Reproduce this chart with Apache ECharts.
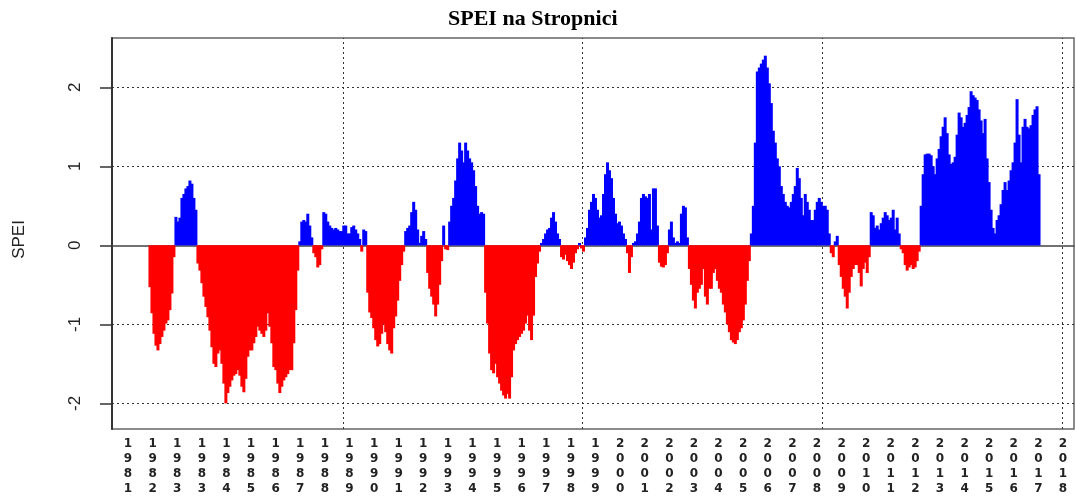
<!DOCTYPE html>
<html>
<head>
<meta charset="utf-8">
<script src="https://cdn.jsdelivr.net/npm/echarts@6/dist/echarts.min.js"></script>
<style>html,body{margin:0;padding:0;background:#fff}#c{width:1076px;height:497px}</style>
</head>
<body>
<div id="c"></div>
<script>
const titleText = 'SPEI na Stropnici';
const yAxisTitle = 'SPEI';
const firstYear = 1981;
const firstMonthIndex = 11; // months after Jan 1981 of the first value

const speiValues = [
  -0.53, -0.86, -1.12, -1.27, -1.33, -1.25, -1.16, -1.08, -0.99, -0.95, -0.82, -0.61, -0.15,
  0.36, 0.30, 0.35, 0.60, 0.65, 0.72, 0.75, 0.82, 0.78, 0.60, 0.45,
  -0.23, -0.32, -0.48, -0.65, -0.78, -0.91, -1.08, -1.29, -1.50, -1.54, -1.37, -1.33, -1.50, -1.75, -2.00, -1.87, -1.79,
  -1.71, -1.65, -1.63, -1.58, -1.65, -1.79, -1.86, -1.69, -1.41, -1.33, -1.33, -1.24, -1.16, -1.03, -1.08, -1.12, -1.16,
  -1.08, -0.86, -1.03, -1.24, -1.54, -1.58, -1.75, -1.87, -1.79, -1.71, -1.67, -1.63, -1.58, -1.58, -1.24, -0.82, -0.32,
  0.05,
  0.30, 0.32, 0.30, 0.40, 0.25, 0.10,
  -0.10, -0.15, -0.28, -0.25, -0.05,
  0.42, 0.40, 0.30, 0.25, 0.22, 0.20, 0.22, 0.20, 0.18,
  0.18, 0.25, 0.25, 0.15, 0.15, 0.23, 0.25, 0.20, 0.15, 0.08, -0.08, 0.20, 0.18,
  -0.60, -0.85, -0.92, -1.05, -1.20, -1.28, -1.25, -1.12, -1.00, -1.10, -1.25, -1.33, -1.37, -1.05, -0.90, -0.70, -0.45, -0.25, -0.08,
  0.18, 0.22, 0.25, 0.42, 0.55, 0.45, 0.20, 0.03, 0.12, 0.18, 0.08,
  -0.35, -0.55, -0.65, -0.75, -0.90, -0.75, -0.50, -0.20,
  0.25, -0.05, -0.06,
  0.30, 0.50, 0.60, 0.82, 1.10, 1.30, 1.20, 1.05, 1.30, 1.20, 1.10, 1.05, 0.95, 0.75, 0.50, 0.40, 0.42, 0.40,
  -0.60, -0.99, -1.37, -1.58, -1.62, -1.50, -1.67, -1.75, -1.84, -1.90, -1.94, -1.88, -1.94, -1.67,
  -1.33, -1.25, -1.20, -1.16, -1.12, -1.08, -0.99, -0.89, -1.08, -1.20, -0.89, -0.40, -0.23, -0.08,
  0.03,
  0.08, 0.15, 0.20, 0.22, 0.35, 0.42, 0.30, 0.15, 0.08,
  -0.15, -0.18, -0.12, -0.20, -0.25, -0.30, -0.22, -0.10, -0.05, 0.03, -0.04, -0.08,
  0.10, 0.22, 0.45, 0.55, 0.65, 0.60, 0.45, 0.35, 0.38, 0.65, 0.90, 1.05, 0.95, 0.85, 0.60, 0.40, 0.28, 0.30, 0.25, 0.15, 0.08,
  -0.10, -0.35, -0.15,
  0.03, 0.05, 0.15, 0.30, 0.60, 0.65, 0.62, 0.60, 0.65, 0.20, 0.72, 0.72, 0.25,
  -0.22, -0.27, -0.28, -0.25, -0.10,
  0.20, 0.30, 0.10, 0.03, 0.05, 0.03, 0.40, 0.50, 0.48, 0.10,
  -0.30, -0.50, -0.70, -0.80, -0.60, -0.55, -0.50, -0.30, -0.65, -0.75, -0.55, -0.55, -0.35, -0.30, -0.45, -0.55,
  -0.60, -0.75, -0.85, -1.00, -1.10, -1.20, -1.23, -1.25, -1.20, -1.10, -1.05, -0.95, -0.75, -0.45, -0.20,
  0.15,
  0.50, 1.30, 2.20, 2.25, 2.30, 2.35, 2.40, 2.25, 2.05, 1.80, 1.45, 1.30, 1.10, 1.00, 0.75, 0.65, 0.55, 0.50, 0.48, 0.55,
  0.65, 0.75, 0.98, 0.85, 0.60, 0.38, 0.65, 0.55, 0.45, 0.32, 0.32, 0.45, 0.55, 0.60, 0.55, 0.50, 0.50, 0.45, 0.15,
  -0.10, -0.15, 0.05, 0.12,
  -0.25, -0.40, -0.55, -0.65, -0.80, -0.60, -0.40, -0.30, -0.25, -0.25, -0.35, -0.52, -0.30, -0.22, -0.35, -0.15,
  0.42, 0.38, 0.22, 0.25, 0.20, 0.28, 0.35, 0.42, 0.38, 0.32, 0.35, 0.45, 0.20, 0.35, 0.15,
  -0.05, -0.10, -0.25, -0.32, -0.28, -0.25, -0.30, -0.28, -0.20, -0.08,
  0.50, 0.90, 1.15, 1.16, 1.16, 1.14, 1.00, 0.90, 1.10, 1.22, 1.38, 1.50, 1.62, 1.42, 1.15, 1.03, 1.05, 1.12, 1.40, 1.68,
  1.62, 1.50, 1.55, 1.65, 1.75, 1.95, 1.90, 1.87, 1.84, 1.72, 1.58, 1.42, 1.60, 1.10, 0.80, 0.45, 0.22, 0.15, 0.32, 0.38,
  0.52, 0.70, 0.80, 0.70, 0.82, 0.95, 1.05, 1.30, 1.85, 1.40, 1.05, 1.50, 1.60, 1.50, 1.48, 1.52, 1.65, 1.72, 1.76, 0.90
];

const yearLabels = [
  '1981','1982','1983','1983','1984','1985','1986','1987','1988','1989',
  '1990','1991','1992','1993','1994','1995','1996','1997','1998','1999',
  '2000','2001','2002','2003','2004','2005','2006','2007','2008','2009',
  '2010','2011','2012','2013','2014','2015','2016','2017','2018'
];
const yTickValues = [-2, -1, 0, 1, 2];
const yGridValues = [-2, -1, 1, 2];
const xGridYears = [1990, 2000, 2010, 2020];

const barData = speiValues.map((v, i) => [firstYear + (firstMonthIndex + i + 0.5) / 12, v]);

const gridStyle = { type: [2, 3], color: '#333', width: 1 };
const markData = [];
xGridYears.forEach(y => markData.push({ xAxis: y, lineStyle: gridStyle }));
yGridValues.forEach(v => markData.push({ yAxis: v, lineStyle: gridStyle }));

const chart = echarts.init(document.getElementById('c'), null, { renderer: 'canvas' });
chart.setOption({
  animation: false,
  backgroundColor: '#fff',
  title: {
    text: titleText, left: 443, top: 3,
    textStyle: { fontFamily: 'Liberation Serif', fontWeight: 'bold', fontSize: 22, color: '#000' }
  },
  grid: [
    { left: 112, right: 2, top: 38, bottom: 68, show: true, borderColor: '#666', borderWidth: 1.5 },
    { left: 128, right: 13, top: 38, bottom: 68, show: false }
  ],
  xAxis: [
    {
      type: 'value', gridIndex: 0, min: 1980.375, max: 2020.5,
      axisLine: { show: true, onZero: true, lineStyle: { color: '#444', width: 1.5 } },
      axisTick: { show: false }, axisLabel: { show: false }, splitLine: { show: false }
    },
    {
      type: 'category', gridIndex: 1, data: yearLabels, boundaryGap: false, position: 'bottom',
      axisLine: { show: false }, axisTick: { show: false }, splitLine: { show: false },
      axisLabel: {
        interval: 0, margin: 8, fontFamily: 'DejaVu Sans', fontWeight: 'bold', fontSize: 12,
        lineHeight: 14.7, color: '#222', formatter: v => v.split('').join('\n')
      }
    }
  ],
  yAxis: [
    {
      type: 'value', gridIndex: 0, min: -2.325, max: 2.624, minInterval: 1, maxInterval: 1,
      name: yAxisTitle, nameLocation: 'middle', nameRotate: 90, nameGap: 84,
      nameTextStyle: { fontFamily: 'Liberation Sans', fontSize: 17, color: '#222', padding: [0, 12, 0, 0] },
      axisLine: { show: true, lineStyle: { color: '#333', width: 2 } },
      axisTick: { show: true, length: 12, customValues: yTickValues, lineStyle: { color: '#333', width: 1.5 } },
      axisLabel: { customValues: yTickValues, rotate: 90, margin: 28, fontFamily: 'Liberation Sans', fontSize: 17, color: '#222' },
      splitLine: { show: false }
    },
    { type: 'value', gridIndex: 1, show: false }
  ],
  series: [{
    type: 'bar', xAxisIndex: 0, yAxisIndex: 0, data: barData, barWidth: 3, z: 3,
    itemStyle: { color: p => (p.value[1] >= 0 ? '#0000FF' : '#FF0000') },
    markLine: { silent: true, z: 1, symbol: 'none', label: { show: false }, data: markData }
  }]
});
</script>
</body>
</html>
